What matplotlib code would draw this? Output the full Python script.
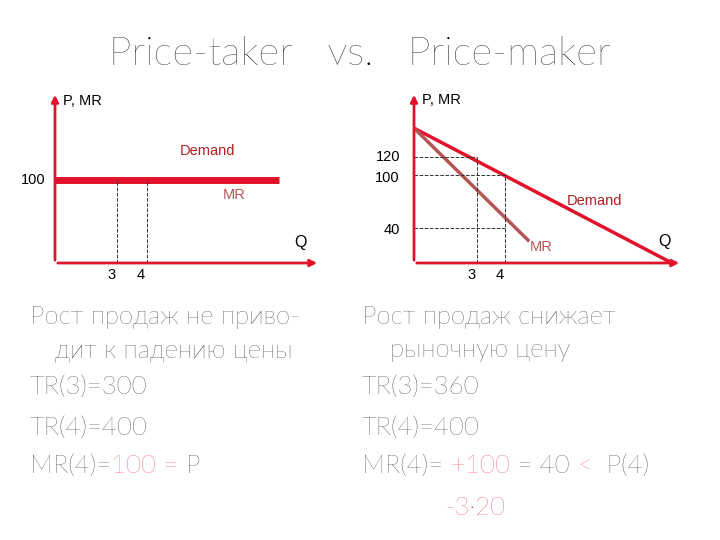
import matplotlib
matplotlib.use("Agg")
import matplotlib.pyplot as plt

# ---- data ----
left_q_marks = [3, 4]
left_price = 100
left_demand_q = [0.93, 8.4]
right_q_marks = [3, 4]
right_prices = [120, 100, 40]
right_price_q = [3, 4, 4]
right_demand_q = [0.75, 9.96]
right_demand_p = [153, 0]
right_mr_q = [0.75, 4.82]
right_mr_p = [153, 26]

W, H = 720, 540
fig = plt.figure(figsize=(7.2, 5.4), dpi=100)
RED = "#e3122b"
MRC = "#b55555"
LAB = "#b02020"
SF = "Liberation Sans"

def ax_at(x0, x1, y0, y1):
    return fig.add_axes([x0 / W, 1 - y1 / H, (x1 - x0) / W, (y1 - y0) / H])

def arrows(ax, xmin, xmax, ymax):
    ax.annotate("", xy=(xmax, 0), xytext=(xmin, 0),
                arrowprops=dict(arrowstyle="-|>", color=RED, lw=2, mutation_scale=10), annotation_clip=False)
    ax.annotate("", xy=(xmin, ymax), xytext=(xmin, 0),
                arrowprops=dict(arrowstyle="-|>", color=RED, lw=2, mutation_scale=10), annotation_clip=False)

# left chart
axL = ax_at(55, 320, 92, 263)
axL.set_xlim(0.93, 9.76); axL.set_ylim(0, 206); axL.axis("off")
arrows(axL, 0.93, 9.76, 206)
axL.plot(left_demand_q, [left_price] * 2, color=RED, lw=5, solid_capstyle="butt")
for q in left_q_marks:
    axL.plot([q, q], [0, left_price], color="#333333", ls="--", lw=0.7)
    axL.text(q - 0.2, -14, str(q), ha="center", va="center", fontsize=10.5, family=SF)
axL.text(0.6, left_price, "100", ha="right", va="center", fontsize=10.5, family=SF)
axL.text(1.2, 195, "P, MR", ha="left", va="center", fontsize=10.5, family=SF)
axL.text(6.0, 135, "Demand", ha="center", va="center", fontsize=10.5, family=SF, color=LAB)
axL.text(6.9, 82, "MR", ha="center", va="center", fontsize=10.5, family=SF, color=MRC)
axL.text(9.1, 25, "Q", ha="center", va="center", fontsize=11.5, family=SF)

# right chart
axR = ax_at(414, 682, 92, 263)
axR.set_xlim(0.75, 10.32); axR.set_ylim(0, 194); axR.axis("off")
arrows(axR, 0.75, 10.32, 194)
axR.plot(right_demand_q, right_demand_p, color=RED, lw=2.5)
axR.plot(right_mr_q, right_mr_p, color=MRC, lw=2.5)
for q, p in zip(right_price_q, right_prices):
    axR.plot([0.75, q], [p, p], color="#333333", ls="--", lw=0.7)
for q in right_q_marks:
    top = max(p for qq, p in zip(right_price_q, right_prices) if qq == q)
    axR.plot([q, q], [0, top], color="#333333", ls="--", lw=0.7)
    axR.text(q - 0.2, -14, str(q), ha="center", va="center", fontsize=10.5, family=SF)
for p, yoff in zip(right_prices, [0, -4, -2]):
    axR.text(0.25, p + yoff, str(p), ha="right", va="center", fontsize=10.5, family=SF)
axR.text(1.05, 185, "P, MR", ha="left", va="center", fontsize=10.5, family=SF)
axR.text(7.2, 70, "Demand", ha="center", va="center", fontsize=10.5, family=SF, color=LAB)
axR.text(5.3, 18, "MR", ha="center", va="center", fontsize=10.5, family=SF, color=MRC)
axR.text(9.7, 24, "Q", ha="center", va="center", fontsize=11.5, family=SF)

# text
TF = "Lato"
fig.text(360 / W, 1 - 54 / H, "Price-taker   vs.   Price-maker", ha="center", va="center",
         fontsize=29, family=TF, fontweight="light")

renderer = fig.canvas.get_renderer()

def line(x, y, parts, size=18.5):
    xf = x / W
    for s, c in parts:
        t = fig.text(xf, 1 - y / H, s, ha="left", va="center", fontsize=size, family=TF,
                     color=c, fontweight="light")
        bb = t.get_window_extent(renderer)
        xf += bb.width / W

K = "black"
line(30, 317, [("Рост продаж не приво-", K)])
line(55, 350, [("дит к падению цены", K)])
line(30, 387, [("TR(3)=300", K)])
line(30, 428, [("TR(4)=400", K)])
line(30, 466, [("MR(4)=", K), ("100 = ", RED), ("P", K)])
line(362, 317, [("Рост продаж снижает", K)])
line(390, 350, [("рыночную цену", K)])
line(362, 387, [("TR(3)=360", K)])
line(362, 428, [("TR(4)=400", K)])
line(362, 466, [("MR(4)= ", K), ("+100", RED), (" = 40 ", K), ("<", RED), ("  P(4)", K)])
line(445, 508, [("-3·20", RED)])

fig.savefig("out.png", dpi=100)
